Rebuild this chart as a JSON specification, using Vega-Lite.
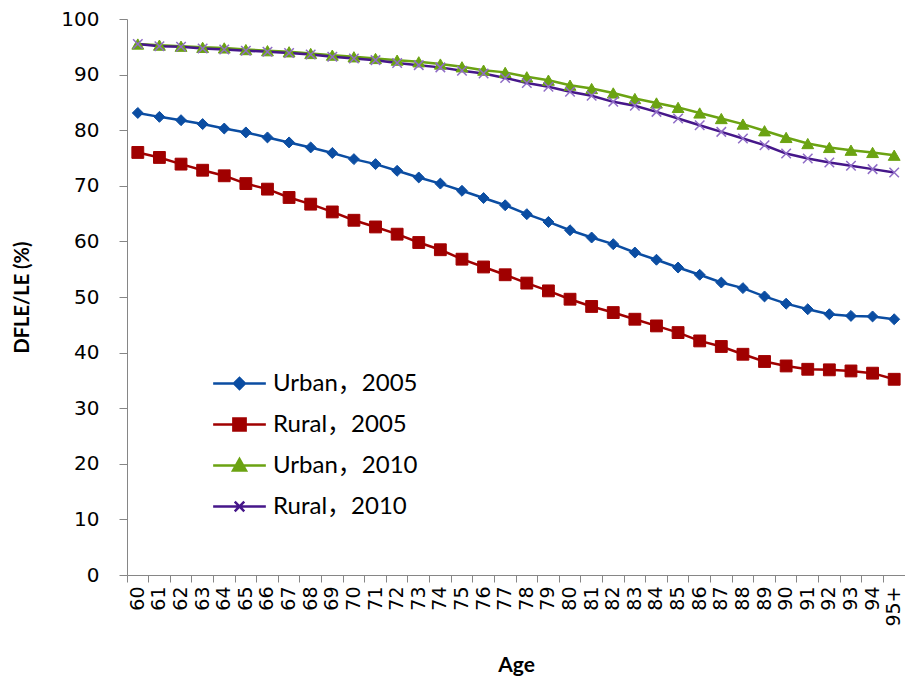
{
  "$schema": "https://vega.github.io/schema/vega-lite/v6.json",
  "width": 778,
  "height": 556,
  "autosize": {"type": "none"},
  "padding": {"left": 127, "top": 19, "right": 0, "bottom": 106},
  "background": "white",
  "config": {"view": {"stroke": null}, "font": "DejaVu Sans"},
  "data": {
    "values": [
      {"Age": "60", "Urban，2005": 83.1, "Rural，2005": 76.0, "Urban，2010": 95.5, "Rural，2010": 95.5},
      {"Age": "61", "Urban，2005": 82.4, "Rural，2005": 75.1, "Urban，2010": 95.3, "Rural，2010": 95.1},
      {"Age": "62", "Urban，2005": 81.8, "Rural，2005": 73.9, "Urban，2010": 95.1, "Rural，2010": 95.0},
      {"Age": "63", "Urban，2005": 81.1, "Rural，2005": 72.8, "Urban，2010": 94.9, "Rural，2010": 94.7},
      {"Age": "64", "Urban，2005": 80.3, "Rural，2005": 71.8, "Urban，2010": 94.8, "Rural，2010": 94.5},
      {"Age": "65", "Urban，2005": 79.6, "Rural，2005": 70.4, "Urban，2010": 94.5, "Rural，2010": 94.3},
      {"Age": "66", "Urban，2005": 78.7, "Rural，2005": 69.4, "Urban，2010": 94.3, "Rural，2010": 94.1},
      {"Age": "67", "Urban，2005": 77.8, "Rural，2005": 67.9, "Urban，2010": 94.1, "Rural，2010": 93.9},
      {"Age": "68", "Urban，2005": 76.9, "Rural，2005": 66.7, "Urban，2010": 93.8, "Rural，2010": 93.6},
      {"Age": "69", "Urban，2005": 75.9, "Rural，2005": 65.3, "Urban，2010": 93.5, "Rural，2010": 93.2},
      {"Age": "70", "Urban，2005": 74.8, "Rural，2005": 63.8, "Urban，2010": 93.2, "Rural，2010": 92.9},
      {"Age": "71", "Urban，2005": 73.9, "Rural，2005": 62.6, "Urban，2010": 92.9, "Rural，2010": 92.6},
      {"Age": "72", "Urban，2005": 72.7, "Rural，2005": 61.3, "Urban，2010": 92.6, "Rural，2010": 92.1},
      {"Age": "73", "Urban，2005": 71.5, "Rural，2005": 59.8, "Urban，2010": 92.3, "Rural，2010": 91.7},
      {"Age": "74", "Urban，2005": 70.4, "Rural，2005": 58.5, "Urban，2010": 91.9, "Rural，2010": 91.3},
      {"Age": "75", "Urban，2005": 69.1, "Rural，2005": 56.8, "Urban，2010": 91.4, "Rural，2010": 90.7},
      {"Age": "76", "Urban，2005": 67.8, "Rural，2005": 55.4, "Urban，2010": 90.8, "Rural，2010": 90.2},
      {"Age": "77", "Urban，2005": 66.5, "Rural，2005": 54.0, "Urban，2010": 90.4, "Rural，2010": 89.4},
      {"Age": "78", "Urban，2005": 64.9, "Rural，2005": 52.5, "Urban，2010": 89.6, "Rural，2010": 88.5},
      {"Age": "79", "Urban，2005": 63.5, "Rural，2005": 51.1, "Urban，2010": 89.0, "Rural，2010": 87.8},
      {"Age": "80", "Urban，2005": 62.0, "Rural，2005": 49.6, "Urban，2010": 88.1, "Rural，2010": 86.9},
      {"Age": "81", "Urban，2005": 60.7, "Rural，2005": 48.3, "Urban，2010": 87.5, "Rural，2010": 86.2},
      {"Age": "82", "Urban，2005": 59.5, "Rural，2005": 47.2, "Urban，2010": 86.7, "Rural，2010": 85.1},
      {"Age": "83", "Urban，2005": 58.0, "Rural，2005": 46.0, "Urban，2010": 85.7, "Rural，2010": 84.4},
      {"Age": "84", "Urban，2005": 56.7, "Rural，2005": 44.8, "Urban，2010": 84.9, "Rural，2010": 83.3},
      {"Age": "85", "Urban，2005": 55.3, "Rural，2005": 43.6, "Urban，2010": 84.1, "Rural，2010": 82.1},
      {"Age": "86", "Urban，2005": 54.0, "Rural，2005": 42.1, "Urban，2010": 83.1, "Rural，2010": 80.9},
      {"Age": "87", "Urban，2005": 52.6, "Rural，2005": 41.1, "Urban，2010": 82.1, "Rural，2010": 79.7},
      {"Age": "88", "Urban，2005": 51.6, "Rural，2005": 39.7, "Urban，2010": 81.1, "Rural，2010": 78.5},
      {"Age": "89", "Urban，2005": 50.1, "Rural，2005": 38.4, "Urban，2010": 79.9, "Rural，2010": 77.3},
      {"Age": "90", "Urban，2005": 48.8, "Rural，2005": 37.6, "Urban，2010": 78.7, "Rural，2010": 75.8},
      {"Age": "91", "Urban，2005": 47.8, "Rural，2005": 37.0, "Urban，2010": 77.6, "Rural，2010": 74.9},
      {"Age": "92", "Urban，2005": 46.9, "Rural，2005": 36.9, "Urban，2010": 76.9, "Rural，2010": 74.2},
      {"Age": "93", "Urban，2005": 46.6, "Rural，2005": 36.7, "Urban，2010": 76.4, "Rural，2010": 73.6},
      {"Age": "94", "Urban，2005": 46.5, "Rural，2005": 36.3, "Urban，2010": 76.0, "Rural，2010": 73.0},
      {"Age": "95+", "Urban，2005": 46.0, "Rural，2005": 35.2, "Urban，2010": 75.5, "Rural，2010": 72.4}
    ]
  },
  "transform": [
    {"fold": ["Urban，2005", "Rural，2005", "Urban，2010", "Rural，2010"], "as": ["series", "value"]}
  ],
  "encoding": {
    "x": {
      "field": "Age", "type": "nominal", "sort": null,
      "scale": {"type": "band", "paddingInner": 0, "paddingOuter": 0},
      "axis": {
        "title": "Age", "labelAngle": 270, "labelAlign": "right", "labelBaseline": "middle",
        "labelFont": "DejaVu Sans", "labelFontSize": 19, "labelColor": "#000000", "labelPadding": 4,
        "tickSize": 7, "tickColor": "#868686", "domainColor": "#868686", "bandPosition": 0,
        "titleFont": "Lato", "titleFontWeight": "bold", "titleFontSize": 21, "titleColor": "#000000",
        "titlePadding": 28, "grid": false, "labelOverlap": false
      }
    },
    "y": {
      "field": "value", "type": "quantitative",
      "scale": {"domain": [0, 100], "nice": false},
      "axis": {
        "title": "DFLE/LE (%)", "values": [0, 10, 20, 30, 40, 50, 60, 70, 80, 90, 100],
        "grid": false, "labelFont": "DejaVu Sans", "labelFontSize": 20, "labelColor": "#000000",
        "labelPadding": 20, "tickSize": 8, "tickColor": "#868686", "domainColor": "#868686",
        "titleFont": "Lato", "titleFontWeight": "bold", "titleFontSize": 20, "titleColor": "#000000",
        "titlePadding": 28
      }
    }
  },
  "layer": [
    {
      "mark": {"type": "line", "strokeWidth": 2.5},
      "encoding": {
        "color": {
          "field": "series", "type": "nominal",
          "scale": {
            "domain": ["Urban，2005", "Rural，2005", "Urban，2010", "Rural，2010"],
            "range": ["#0B4DA2", "#A00000", "#6BA312", "#46178A"]
          },
          "legend": {
            "title": null, "orient": "none", "legendX": 94, "legendY": 346,
            "padding": 0, "rowPadding": 10, "symbolSize": 1156, "symbolStrokeWidth": 2.5,
            "labelFont": "Lato, Noto Sans CJK SC", "labelFontSize": 24, "labelColor": "#000000", "labelOffset": 15,
            "labelLimit": 300,
            "encode": {
              "symbols": {
                "update": {
                  "shape": {"signal": "datum.value === 'Urban，2005' ? 'M-1.55,0H1.55M-0.32,0L0,-0.32L0.32,0L0,0.32Z' : datum.value === 'Rural，2005' ? 'M-1.55,0H1.55M-0.36,-0.36H0.36V0.36H-0.36Z' : datum.value === 'Urban，2010' ? 'M-1.55,0H1.55M-0.38,0.3L0,-0.38L0.38,0.3Z' : 'M-1.55,0H1.55M-0.28,-0.28L0.28,0.28M-0.28,0.28L0.28,-0.28'"},
                  "fill": {"signal": "datum.value === 'Urban，2005' ? '#0B4DA2' : datum.value === 'Rural，2005' ? '#A00000' : datum.value === 'Urban，2010' ? '#6BA312' : 'transparent'"},
                  "stroke": {"signal": "datum.value === 'Urban，2005' ? '#0B4DA2' : datum.value === 'Rural，2005' ? '#A00000' : datum.value === 'Urban，2010' ? '#6BA312' : '#46178A'"},
                  "strokeWidth": {"value": 2.5},
                  "opacity": {"value": 1},
                  "fillOpacity": {"value": 1},
                  "strokeOpacity": {"value": 1}
                }
              }
            }
          }
        }
      }
    },
    {
      "transform": [{"filter": "datum.series === 'Urban，2005'"}],
      "mark": {"type": "point", "shape": "diamond", "filled": true, "opacity": 1, "fill": "#0B4DA2", "stroke": "#0B4DA2", "strokeWidth": 1, "size": 120}
    },
    {
      "transform": [{"filter": "datum.series === 'Rural，2005'"}],
      "mark": {"type": "point", "shape": "square", "filled": true, "opacity": 1, "fill": "#A00000", "stroke": "#A00000", "strokeWidth": 1, "size": 140}
    },
    {
      "transform": [{"filter": "datum.series === 'Urban，2010'"}],
      "mark": {"type": "point", "shape": "triangle-up", "filled": true, "opacity": 1, "fill": "#6BA312", "stroke": "#6BA312", "strokeWidth": 1, "size": 140}
    },
    {
      "transform": [{"filter": "datum.series === 'Rural，2010'"}],
      "mark": {"type": "point", "shape": "M-1,-1L1,1M-1,1L1,-1", "filled": false, "opacity": 1, "stroke": "#8F6CC6", "strokeWidth": 1.5, "size": 90}
    }
  ]
}
